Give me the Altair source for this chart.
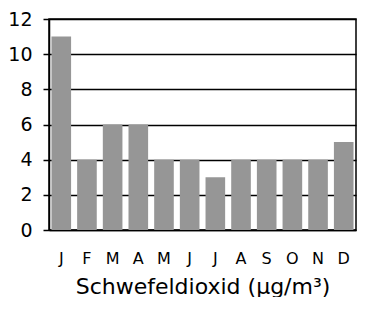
import altair as alt
import pandas as pd

months = ["J", "F", "M", "A", "M ", "J ", "J  ", "A ", "S", "O", "N", "D"]
values = [11, 4, 6, 6, 4, 4, 3, 4, 4, 4, 4, 5]
y_ticks = [0, 2, 4, 6, 8, 10, 12]
title = "Schwefeldioxid (µg/m³)"

df = pd.DataFrame({"month": months, "value": values})

chart = alt.Chart(df).mark_bar(color="#969696").encode(
    x=alt.X("month:N", sort=months,
            scale=alt.Scale(paddingInner=0.236, paddingOuter=0.096),
            axis=alt.Axis(title=title, labelAngle=0, ticks=False, domain=True,
                          domainColor="black", domainWidth=1.5,
                          labelPadding=20, labelFont="DejaVu Sans", labelFontSize=16,
                          labelColor="black",
                          titleFont="DejaVu Sans", titleFontSize=22, titleFontWeight="normal",
                          titleColor="black", titleBaseline="alphabetic", titleY=63)),
    y=alt.Y("value:Q", scale=alt.Scale(domain=[0, 12], nice=False),
            axis=alt.Axis(title=None, values=y_ticks, grid=True, gridColor="black",
                          gridWidth=1.5, gridOpacity=1, tickColor="black", tickSize=6,
                          tickWidth=1.5, domainColor="black", domainWidth=1.5,
                          labelPadding=11,
                          labelFont="DejaVu Sans", labelFontSize=19, labelColor="black")),
).properties(
    width=307, height=211,
    autosize=alt.AutoSizeParams(type="none"),
    padding={"left": 41, "top": 11, "right": 1, "bottom": 67},
).configure_view(stroke="black", strokeWidth=1.5)

chart.save("out.html", embed_options={"renderer": "svg", "actions": False})
